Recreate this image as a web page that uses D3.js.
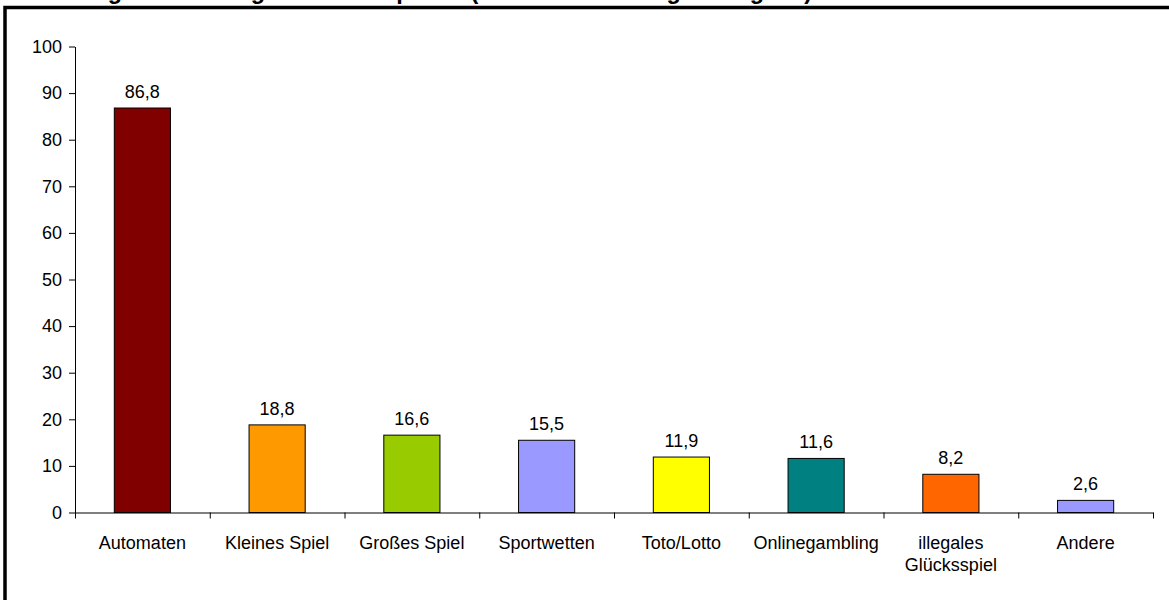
<!DOCTYPE html>
<html>
<head>
<meta charset="utf-8">
<script src="https://cdn.jsdelivr.net/npm/d3@7/dist/d3.min.js"></script>
<style>
  html, body { margin: 0; padding: 0; background: #fff; }
  svg { display: block; }
  text { font-family: Arial, "Liberation Sans", sans-serif; fill: #000; }
</style>
</head>
<body>
<svg id="chart" width="1169" height="600"></svg>
<script>
const categories = ["Automaten", "Kleines Spiel", "Großes Spiel", "Sportwetten", "Toto/Lotto", "Onlinegambling", "illegales Glücksspiel", "Andere"];
const labelLines = [["Automaten"], ["Kleines Spiel"], ["Großes Spiel"], ["Sportwetten"], ["Toto/Lotto"], ["Onlinegambling"], ["illegales", "Glücksspiel"], ["Andere"]];
const values = [86.8, 18.8, 16.6, 15.5, 11.9, 11.6, 8.2, 2.6];
const colors = ["#800000", "#FF9900", "#99CC00", "#9999FF", "#FFFF00", "#008080", "#FF6600", "#9999FF"];
const yTicks = [0, 10, 20, 30, 40, 50, 60, 70, 80, 90, 100];
const title = "Verteilung der Nutzung an Glücksspielen (Mehrfachnennungen möglich)";

const svg = d3.select("#chart");
const mLeft = 75, mRight = 1153, mTop = 46.5, mBottom = 512.5;
const fs = 18;

// Frame (cropped border)
svg.append("rect")
  .attr("x", 5).attr("y", 7.5)
  .attr("width", 1400).attr("height", 900)
  .attr("fill", "none").attr("stroke", "#000").attr("stroke-width", 3.5);

// Title (mostly cut off at the top, as in the reference)
svg.append("text")
  .attr("x", 9).attr("y", -1)
  .attr("font-size", 23.4).attr("font-weight", "bold")
  .text(title);

const x = d3.scaleBand().domain(categories).range([mLeft, mRight]).padding(0);
const xb = d3.scaleLinear().domain([0, categories.length]).range([mLeft, mRight]);
const y = d3.scaleLinear().domain([0, 100]).range([mBottom, mTop]);

const fmt = v => d3.format(".1f")(v).replace(".", ",");

// Y axis
const yAxis = svg.append("g")
  .attr("transform", `translate(${mLeft},0)`)
  .call(d3.axisLeft(y).tickValues(yTicks).tickSize(6).tickSizeOuter(0).tickPadding(7).tickFormat(d3.format("d")));
yAxis.selectAll("text").attr("font-size", fs).attr("font-family", "Arial, 'Liberation Sans', sans-serif").attr("fill", "#000");
yAxis.selectAll("line, path").attr("stroke", "#000");

// Bars
const barW = x.bandwidth() / 2.4;
svg.append("g").selectAll("rect")
  .data(values)
  .join("rect")
  .attr("x", (d, i) => x(categories[i]) + (x.bandwidth() - barW) / 2)
  .attr("y", d => y(d))
  .attr("width", barW)
  .attr("height", d => y(0) - y(d))
  .attr("fill", (d, i) => colors[i])
  .attr("stroke", "#000")
  .attr("stroke-width", 1);

// Value labels
svg.append("g").selectAll("text")
  .data(values)
  .join("text")
  .attr("x", (d, i) => x(categories[i]) + x.bandwidth() / 2)
  .attr("y", d => y(d) - 10)
  .attr("text-anchor", "middle")
  .attr("font-size", fs)
  .text(d => fmt(d));

// X axis (boundary ticks)
const xAxis = svg.append("g")
  .attr("transform", `translate(0,${mBottom})`)
  .call(d3.axisBottom(xb).tickValues(d3.range(categories.length + 1)).tickSize(6).tickSizeOuter(0).tickFormat(""));
xAxis.selectAll("line, path").attr("stroke", "#000");

// Category labels
const cl = svg.append("g").selectAll("text")
  .data(categories)
  .join("text")
  .attr("x", d => x(d) + x.bandwidth() / 2)
  .attr("y", mBottom + 36)
  .attr("text-anchor", "middle")
  .attr("font-size", fs);
cl.each(function(d, i) {
  const t = d3.select(this);
  labelLines[i].forEach((ln, j) => {
    t.append("tspan")
      .attr("x", x(d) + x.bandwidth() / 2)
      .attr("dy", j === 0 ? 0 : 22.5)
      .text(ln);
  });
});
</script>
</body>
</html>
